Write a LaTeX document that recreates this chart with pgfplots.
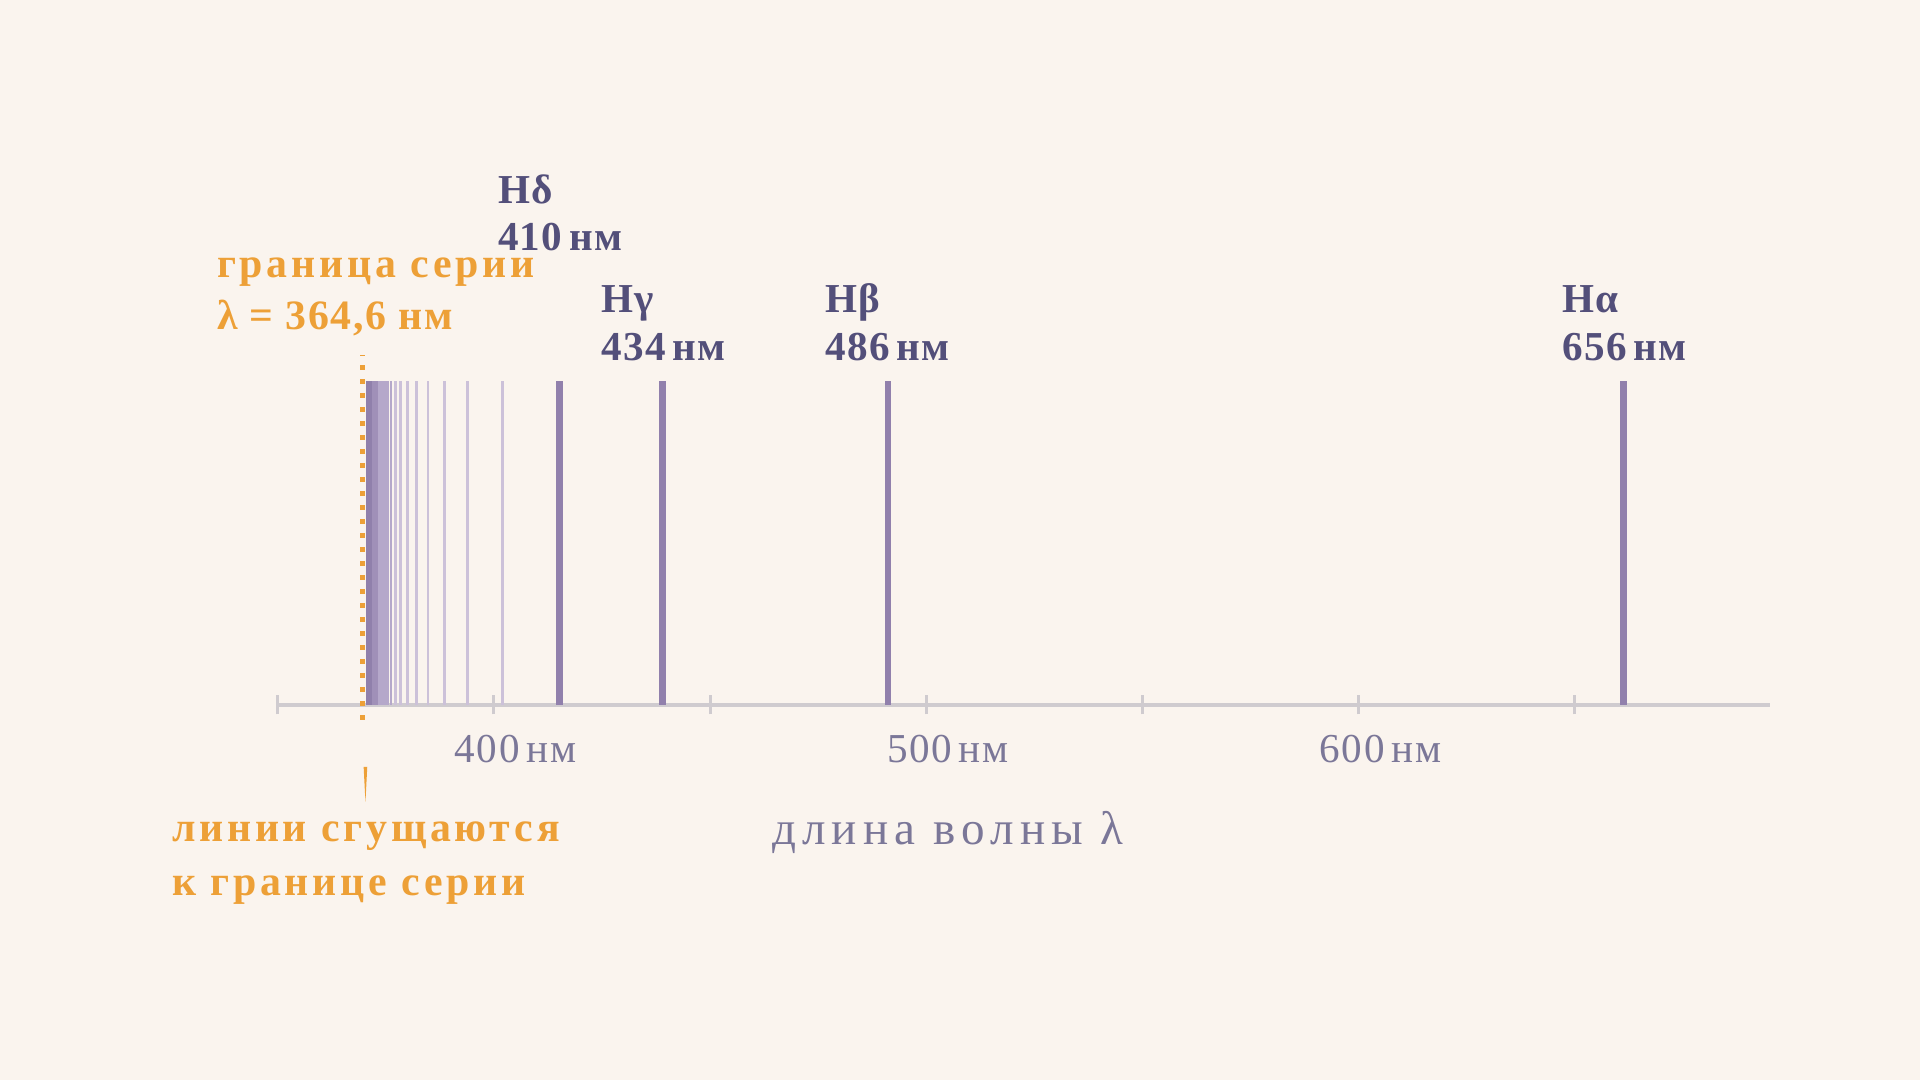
\documentclass[border=0pt]{standalone}
\usepackage{pgfplots}
\pgfplotsset{compat=1.18}
\usepackage{fontspec}
\setmainfont{Liberation Serif}

\definecolor{bg}{HTML}{FAF4EE}
\definecolor{lineviolet}{HTML}{9180AC}
\definecolor{labelink}{HTML}{534F7A}
\definecolor{limitorange}{HTML}{EDA037}
\definecolor{axisgray}{HTML}{CFCBCF}
\definecolor{ticktext}{HTML}{7B7798}
\definecolor{faintA}{HTML}{CCC1D9}
\definecolor{faintB}{HTML}{B5A8CA}
\definecolor{faintC}{HTML}{A090B8}
\definecolor{faintD}{HTML}{9080AB}

\tikzset{
  lbl/.style={anchor=base west, inner sep=0pt, text=labelink,
    font=\fontsize{11.7}{14}\selectfont\bfseries\addfontfeature{LetterSpace=3}},
  olbl/.style={anchor=base west, inner sep=0pt, text=limitorange,
    font=\fontsize{11.9}{14}\selectfont\bfseries\addfontfeature{LetterSpace=9}},
}

\begin{document}
\begin{tikzpicture}
\useasboundingbox (0mm,0mm) rectangle (192mm,108mm);
\fill[bg] (0mm,0mm) rectangle (192mm,108mm);
\begin{axis}[
  at={(27.77mm,37.5mm)}, anchor=south west,
  scale only axis, width=149.18mm, height=32.4mm,
  xmin=345, xmax=690, ymin=0, ymax=1,
  axis x line*=bottom, axis y line=none,
  every outer x axis line/.append style={-},
  x axis line style={-, axisgray, line width=0.4mm},
  xtick={345,395,...,645}, xticklabels={},
  major tick length=1.9mm, tick align=center,
  tick style={axisgray, line width=0.3mm},
  extra x ticks={400,500,600},
  extra x tick labels={400\,нм,500\,нм,600\,нм},
  extra x tick style={major tick length=0pt,
    tick label style={anchor=base, inner sep=0pt, yshift=-5.8mm, text=ticktext,
      font=\fontsize{11.7}{14}\selectfont\addfontfeature{LetterSpace=4}}},
  clip=false,
]
% Balmer lines n = 7 ... 36, converging to the series limit
\addplot[ycomb, no marks, color=faintA, line width=0.25mm] coordinates {
  (397.01,1)(388.91,1)(383.54,1)(379.79,1)(377.07,1)(375.02,1)(373.44,1)(372.20,1)};
\addplot[ycomb, no marks, color=faintB, line width=0.25mm] coordinates {
  (371.20,1)(370.39,1)(369.72,1)(369.16,1)(368.68,1)(368.28,1)};
\addplot[ycomb, no marks, color=faintC, line width=0.25mm] coordinates {
  (367.94,1)(367.64,1)(367.38,1)(367.15,1)(366.95,1)(366.77,1)(366.61,1)};
\addplot[ycomb, no marks, color=faintD, line width=0.25mm] coordinates {
  (366.47,1)(366.34,1)(366.23,1)(366.12,1)(366.03,1)(365.94,1)(365.86,1)(365.79,1)(365.73,1)};
% H alpha, beta, gamma, delta
\addplot[ycomb, no marks, color=lineviolet, line width=0.67mm] coordinates {
  (410.17,1)(434.05,1)(486.13,1)(656.28,1)};
% series limit
\addplot[no marks, color=limitorange, line width=0.5mm, dash pattern=on 0.5mm off 0.9mm]
  coordinates {(364.6,-0.046)(364.6,1.08)};

\node[lbl, xshift=-6.2mm, yshift=17.7mm] at (axis cs:410.17,1) {Hδ};
\node[lbl, xshift=-6.2mm, yshift=13.0mm] at (axis cs:410.17,1) {410\,нм};
\node[lbl, xshift=-6.2mm, yshift=6.8mm] at (axis cs:434.05,1) {Hγ};
\node[lbl, xshift=-6.2mm, yshift=2.0mm] at (axis cs:434.05,1) {434\,нм};
\node[lbl, xshift=-6.3mm, yshift=6.8mm] at (axis cs:486.13,1) {Hβ};
\node[lbl, xshift=-6.3mm, yshift=2.0mm] at (axis cs:486.13,1) {486\,нм};
\node[lbl, xshift=-6.2mm, yshift=6.8mm] at (axis cs:656.28,1) {Hα};
\node[lbl, xshift=-6.2mm, yshift=2.0mm] at (axis cs:656.28,1) {656\,нм};

\node[olbl, xshift=-14.6mm, yshift=10.3mm] at (axis cs:364.6,1) {граница серии};
\node[olbl, xshift=-14.6mm, yshift=5.1mm, font=\fontsize{11.9}{14}\selectfont\bfseries\addfontfeature{LetterSpace=4}]
  at (axis cs:364.6,1) {λ = 364,6 нм};
\fill[limitorange] ([xshift=0.12mm, yshift=-6.2mm]axis cs:364.6,0)
  -- ([xshift=0.48mm, yshift=-6.2mm]axis cs:364.6,0)
  -- ([xshift=0.3mm, yshift=-9.7mm]axis cs:364.6,0) -- cycle;
\node[olbl, xshift=-19.1mm, yshift=-13.7mm] at (axis cs:364.6,0) {линии сгущаются};
\node[olbl, xshift=-19.1mm, yshift=-19.1mm] at (axis cs:364.6,0) {к границе серии};

\node[anchor=base, inner sep=0pt, text=ticktext,
  font=\fontsize{13.4}{16}\selectfont\addfontfeature{LetterSpace=13}]
  at (axis cs:500,0) [yshift=-14.0mm] {длина волны λ};
\end{axis}
\end{tikzpicture}
\end{document}
